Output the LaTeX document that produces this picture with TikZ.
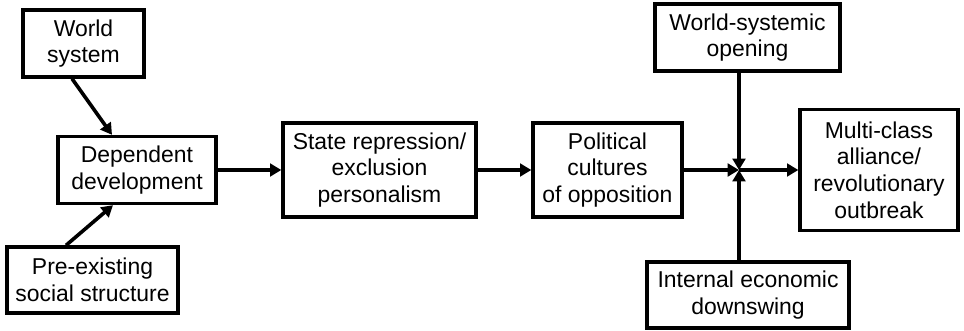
\documentclass[tikz,border=0pt]{standalone}
\usepackage{fontspec}
\setmainfont{Liberation Sans}
\usetikzlibrary{arrows.meta,calc}
\begin{document}
\begin{tikzpicture}[x=0.75pt,y=-0.75pt,
  box/.style={draw,line width=2.5pt,inner sep=0pt,align=center,
    font=\fontsize{17.2}{20}\selectfont},
  arr/.style={line width=2.7pt,-{Triangle[length=8.5pt,width=9.5pt]}}]
\useasboundingbox (0,0) rectangle (964,331);
\node[box,minimum width=121*0.75pt,minimum height=67*0.75pt] (ws) at (83.5,43.5) {World\\system};
\node[box,minimum width=158*0.75pt,minimum height=67*0.75pt] (dd) at (137,170) {Dependent\\development};
\node[box,minimum width=171*0.75pt,minimum height=66*0.75pt] (pe) at (92.5,280) {Pre-existing\\social structure};
\node[box,minimum width=193*0.75pt,minimum height=94*0.75pt] (sr) at (379.5,170) {State repression/\\exclusion\\personalism};
\node[box,minimum width=149*0.75pt,minimum height=94*0.75pt] (pc) at (607.5,170) {Political\\cultures\\of opposition};
\node[box,minimum width=185*0.75pt,minimum height=67*0.75pt] (wo) at (747.5,37.5) {World-systemic\\opening};
\node[box,minimum width=158*0.75pt,minimum height=121*0.75pt] (mc) at (879,170) {Multi-class\\alliance/\\revolutionary\\outbreak};
\node[box,minimum width=202*0.75pt,minimum height=66*0.75pt] (ie) at (748,295) {Internal economic\\downswing};
\coordinate (j) at (739,170);
\draw[arr] ($(ws.south)+(-11.5,0)$) -- ($(dd.north)+(-25,0)$);
\draw[arr] ($(pe.north)+(-26.5,0)$) -- ($(dd.south)+(-24,0)$);
\draw[arr] (dd.east) -- (sr.west);
\draw[arr] (sr.east) -- (pc.west);
\draw[arr] (pc.east) -- (j);
\draw[arr] (wo.south -| j) -- (j);
\draw[arr] (ie.north -| j) -- (j);
\draw[arr] (j) -- (mc.west);
\end{tikzpicture}
\end{document}
